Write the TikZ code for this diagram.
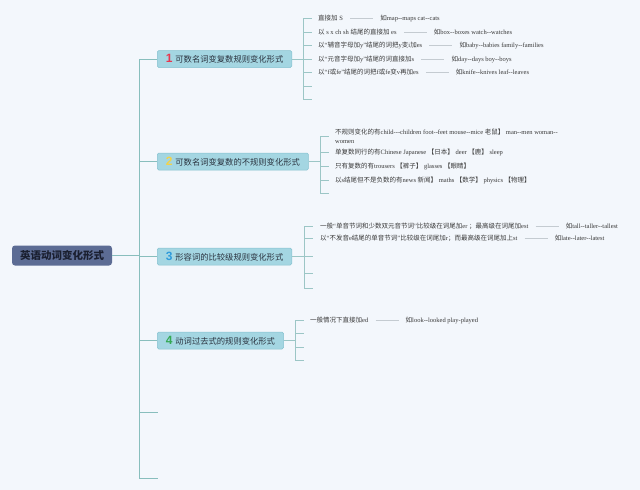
\documentclass[tikz,border=0pt]{standalone}
\usepackage{fontspec}
\setmainfont{Liberation Serif}[Ligatures=TeXOff]
\newfontfamily\cjk{Noto Sans CJK SC}
\newfontfamily\numfont{Liberation Sans}
\usetikzlibrary{positioning}
\definecolor{bgc}{HTML}{F3F7FC}
\definecolor{rootc}{HTML}{5C6C94}
\definecolor{rootText}{HTML}{1A1F30}
\definecolor{catc}{HTML}{A4D6E2}
\definecolor{catd}{HTML}{86C2D0}
\definecolor{cA}{HTML}{E8364F}
\definecolor{cB}{HTML}{F2D24B}
\definecolor{cC}{HTML}{2F9BDB}
\definecolor{cD}{HTML}{34A853}
\definecolor{trunkc}{HTML}{88BEBD}
\definecolor{subc}{HTML}{9CC6C6}
\definecolor{linkc}{HTML}{C4CBD1}
\definecolor{leafText}{HTML}{3A3A3A}
\definecolor{catText}{HTML}{2B3440}
\newcommand\zh[1]{{\cjk #1}}
\newcommand\numlab[2]{{\numfont\bfseries\fontsize{12}{12}\selectfont\color{#1}#2}\hspace{3pt}}
\begin{document}
\begin{tikzpicture}[x=1pt,y=-1pt,
  rootbox/.style={fill=rootc, rounded corners=3pt, text=rootText,
    font=\fontsize{10.5}{12}\selectfont\cjk\bfseries, minimum width=100pt, minimum height=20pt, inner sep=0pt},
  catbox/.style={fill=catc, draw=catd, line width=0.5pt, rounded corners=1.5pt,
    minimum height=17pt, inner xsep=8.5pt, inner ysep=0pt, anchor=west,
    font=\fontsize{8.3}{10}\selectfont\cjk, text=catText},
  leaf/.style={anchor=west, inner sep=1pt, font=\fontsize{6.5}{9}\selectfont, text=leafText, align=left},
  trunk/.style={draw=trunkc, line width=1pt},
  sub/.style={draw=subc, line width=0.8pt},
  link/.style={draw=linkc, line width=0.7pt},
  node distance=35pt]
\fill[bgc] (0,0) rectangle (640,490);
\useasboundingbox (0,0) rectangle (640,490);

% root and trunk
\node[rootbox] (root) at (62,255.5) {英语动词变化形式};
\coordinate (tk) at (139,255.5);
\node[catbox] (b1) at (157,59) {\numlab{cA}{1}可数名词变复数规则变化形式};
\node[catbox] (b2) at (157,161.5) {\numlab{cB}{2}可数名词变复数的不规则变化形式};
\node[catbox] (b3) at (157,256.5) {\numlab{cC}{3}形容词的比较级规则变化形式};
\node[catbox] (b4) at (157,340.5) {\numlab{cD}{4}动词过去式的规则变化形式};
\coordinate (x5) at (158,412);
\coordinate (x6) at (158,478);
\draw[trunk] (root.east) -- (root.east -| tk);
\draw[trunk] (b1.west -| tk) -- (x6 -| tk);
\foreach \b in {b1,b2,b3,b4} \draw[trunk] (\b.west -| tk) -- (\b.west);
\foreach \b in {x5,x6} \draw[trunk] (\b -| tk) -- (\b);

% ---------- branch 1
\coordinate (v1) at (303,59);
\node[leaf] (t11) at (317,18) {\zh{直接加} S};
\node[leaf] (t12) at (317,32) {\zh{以} s x ch sh \zh{结尾的直接加} es};
\node[leaf] (t13) at (317,45.5) {\zh{以}“\zh{辅音字母加}y”\zh{结尾的词把}y\zh{变}i\zh{加}es};
\node[leaf] (t14) at (317,59) {\zh{以}“\zh{元音字母加}y”\zh{结尾的词直接加}s};
\node[leaf] (t15) at (317,72.5) {\zh{以}“f\zh{或}fe”\zh{结尾的词把}f\zh{或}fe\zh{变}v\zh{再加}es};
\coordinate (t16) at (312,86);
\coordinate (t17) at (312,99);
\node[leaf, right=of t11] (e11) {\zh{如}map--maps cat--cats};
\node[leaf, right=of t12] (e12) {\zh{如}box--boxes watch--watches};
\node[leaf, right=of t13] (e13) {\zh{如}baby--babies family--families};
\node[leaf, right=of t14] (e14) {\zh{如}day--days boy--boys};
\node[leaf, right=of t15] (e15) {\zh{如}knife--knives leaf--leaves};
\draw[sub] (b1.east) -- (b1.east -| v1);
\draw[sub] (t11.west -| v1) -- (t17 -| v1);
\foreach \n in {t11,t12,t13,t14,t15} \draw[sub] (\n.west -| v1) -- ++(9,0);
\foreach \n in {t16,t17} \draw[sub] (\n -| v1) -- (\n);
\foreach \n in {1,...,5} \draw[link] ([xshift=6pt]t1\n.east) -- ([xshift=-6pt]e1\n.west);

% ---------- branch 2
\coordinate (v2) at (320,161.5);
\node[leaf] (t21) at (334,136.5) {\zh{不规则变化的有}child---children foot--feet mouse--mice \zh{老鼠】} man--men woman--\\women};
\node[leaf] (t22) at (334,152.5) {\zh{单复数同行的有}Chinese Japanese \zh{【日本】} deer \zh{【鹿】} sleep};
\node[leaf] (t23) at (334,166) {\zh{只有复数的有}trousers \zh{【裤子】} glasses \zh{【眼睛】}};
\node[leaf] (t24) at (334,180) {\zh{以}s\zh{结尾但不是负数的有}news \zh{新闻】} maths \zh{【数学】} physics \zh{【物理】}};
\coordinate (t25) at (329,193.5);
\draw[sub] (b2.east) -- (b2.east -| v2);
\draw[sub] (t21.west -| v2) -- (t25 -| v2);
\foreach \n in {t21,t22,t23,t24} \draw[sub] (\n.west -| v2) -- ++(9,0);
\draw[sub] (t25 -| v2) -- (t25);

% ---------- branch 3
\coordinate (v3) at (304,256.5);
\node[leaf] (t31) at (319,226.5) {\zh{一般}“\zh{单音节词和少数双元音节词}”\zh{比较级在词尾加}er \zh{；最高级在词尾加}est};
\node[leaf] (t32) at (319,238.5) {\zh{以}“\zh{不发音}e\zh{结尾的单音节词}”\zh{比较级在词尾加}r\zh{；而最高级在词尾加上}st};
\coordinate (t33) at (313,256.5);
\coordinate (t34) at (313,273);
\coordinate (t35) at (313,288);
\node[leaf, right=of t31] (e31) {\zh{如}tall--taller--tallest};
\node[leaf, right=of t32] (e32) {\zh{如}late--later--latest};
\draw[sub] (b3.east) -- (b3.east -| v3);
\draw[sub] (t31.west -| v3) -- (t35 -| v3);
\foreach \n in {t31,t32} \draw[sub] (\n.west -| v3) -- ++(9,0);
\foreach \n in {t33,t34,t35} \draw[sub] (\n -| v3) -- (\n);
\foreach \n in {1,2} \draw[link] ([xshift=6pt]t3\n.east) -- ([xshift=-6pt]e3\n.west);

% ---------- branch 4
\coordinate (v4) at (295,340.5);
\node[leaf] (t41) at (309,320) {\zh{一般情况下直接加}ed};
\coordinate (t42) at (304,333.5);
\coordinate (t43) at (304,347);
\coordinate (t44) at (304,360);
\node[leaf, right=of t41] (e41) {\zh{如}look--looked play-played};
\draw[sub] (b4.east) -- (b4.east -| v4);
\draw[sub] (t41.west -| v4) -- (t44 -| v4);
\draw[sub] (t41.west -| v4) -- ++(9,0);
\foreach \n in {t42,t43,t44} \draw[sub] (\n -| v4) -- (\n);
\draw[link] ([xshift=6pt]t41.east) -- ([xshift=-6pt]e41.west);
\end{tikzpicture}
\end{document}
